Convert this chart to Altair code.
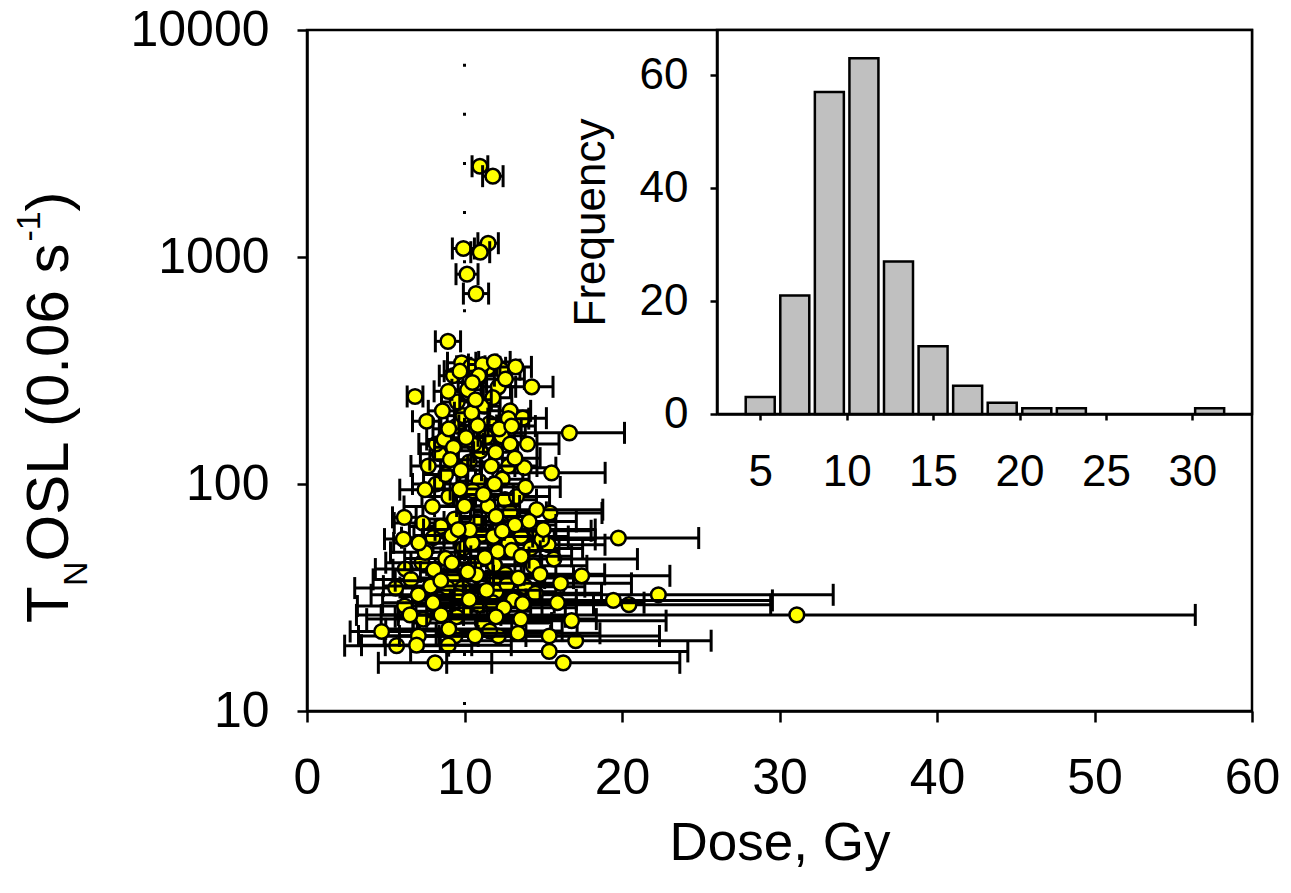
import altair as alt
import pandas as pd

# ---------------- data ----------------
dose = [10.98, 11.8, 9.93, 11.0, 11.5, 10.16, 10.73, 8.95,
        9.82, 9.71, 11.51, 11.15, 12.32, 13.25, 10.4, 10.9, 12.15, 14.27, 6.86, 8.97,
        9.54, 10.46, 11.26, 12.78, 11.8, 10.2, 8.6, 12.6,
        7.6, 10.84, 16.66, 8.7, 11.37, 12.36, 8.4, 11.98, 7.7, 9.78, 15.53, 13.2,
        10.92, 9.3, 10.3, 12.9, 13.8, 9.0, 11.0,
        7.49, 10.52, 13.88, 12.57, 7.96, 9.36, 6.18, 7.34, 14.58, 15.43, 14.1, 14.54,
        10.33, 9.0, 11.5, 8.5, 12.0, 10.8, 11.2, 8.2,
        11.83, 19.77, 6.12, 15.32, 9.19, 13.59, 12.11, 9.93, 13.0, 15.68, 11.3, 14.37,
        8.06, 6.24, 7.5, 10.6, 8.8, 12.8,
        10.77, 11.89, 17.44, 9.25, 13.42, 13.84, 16.1, 5.63, 7.85, 9.89, 7.07, 22.31,
        19.45, 9.54, 13.1, 12.0, 8.5,
        20.44, 13.69, 10.92, 8.51, 7.39, 13.57, 11.13, 6.54, 31.1, 4.74, 9.4, 10.67,
        12.15, 15.38, 17.06, 7.07, 10.0, 12.5,
        5.69, 6.96, 8.97, 15.38, 8.13, 16.27,
        9.5, 10.1, 11.6, 12.2, 9.9, 10.7, 12.9, 13.0, 8.2, 9.1,
        10.6, 11.7, 12.4, 9.7, 13.3, 11.9, 8.8, 10.0, 12.9, 9.6,
        11.1, 13.2, 8.0, 7.1, 10.5, 12.4, 14.9, 9.2, 11.9, 13.6,
        7.3, 10.2, 12.6, 14.8, 8.9, 11.4, 12.7, 10.3, 11.8, 8.0,
        9.5, 12.0, 14.5, 15.9, 6.6, 9.0, 11.6, 13.4, 6.2, 16.8,
        14.2, 15.0, 12.8, 14.0, 13.7, 10.5, 9.3, 11.9]
tn = [2510, 2270, 1090, 1050, 1150, 840, 690, 425,
      342, 314, 325, 336, 319, 328, 330, 300, 268, 268, 243, 256,
      230, 206, 220, 194, 240, 260, 210, 290,
      189, 181, 168, 157, 161, 163, 136, 138, 120, 115, 112, 130,
      103, 145, 125, 150, 118, 175, 140,
      94.4, 93.4, 97, 85.3, 79.6, 70.1, 71.3, 67.3, 77.1, 74.5, 68.4, 62.2,
      62.8, 88, 80, 65, 72, 68, 90, 100,
      58.7, 57.8, 57.2, 54, 59.3, 58.7, 50.5, 52.2, 51, 46.7, 47.4, 43.6,
      41.9, 42.2, 50, 44, 47, 55,
      39.8, 38.5, 39.4, 38.5, 38.5, 35.3, 36.5, 34.8, 35.5, 34.8, 32.5, 32.5,
      30.7, 31.9, 30.9, 33.5, 37.5,
      29.4, 29.7, 29.4, 26.5, 25.4, 25.4, 24.4, 26.5, 26.5, 22.4, 21.4, 21.4,
      21.4, 21.4, 20.4, 21.4, 27.5, 28.5,
      19.4, 19.5, 19.5, 18.3, 16.3, 16.3,
      180, 160, 185, 175, 200, 235, 210, 180, 150, 128,
      150, 120, 105, 95, 88, 100, 110, 80, 75, 63,
      60, 66, 58, 55, 55, 62, 57, 45, 44, 48,
      45, 41, 40, 40, 35, 34, 36, 31, 30, 30,
      26, 26, 33, 30, 38, 23, 22.5, 22, 29, 25,
      52, 63, 120, 150, 195, 280, 300, 345]
dose_err = [0.5, 0.65, 0.7, 0.6, 0.65, 0.7, 0.8, 0.8,
            0.9, 1.0, 1.1, 0.9, 1.2, 1.0, 0.9, 1.0, 1.1, 1.35, 0.5, 0.9,
            1.0, 1.1, 1.0, 1.3, 1.2, 1.0, 0.9, 1.2,
            0.9, 1.2, 3.5, 1.1, 1.3, 1.5, 1.2, 1.4, 1.1, 1.3, 3.4, 1.6,
            1.4, 1.2, 1.3, 1.7, 2.0, 1.0, 1.4,
            1.6, 1.8, 2.2, 2.0, 1.8, 2.0, 0.75, 1.8, 4.2, 3.3, 3.0, 3.5,
            2.2, 1.7, 2.0, 2.0, 2.3, 2.1, 1.9, 1.5,
            2.5, 5.1, 1.2, 3.6, 2.4, 3.0, 2.7, 2.5, 3.0, 5.3, 2.8, 3.4,
            2.6, 1.9, 2.2, 3.0, 2.6, 2.9,
            3.0, 3.2, 5.6, 3.0, 3.5, 3.8, 4.5, 2.6, 3.0, 3.2, 3.0, 11.1,
            10.1, 3.5, 4.0, 3.8, 2.9,
            9.0, 4.5, 4.0, 3.8, 3.6, 4.8, 4.4, 3.4, 25.3, 2.0, 4.5, 4.8,
            5.0, 7.0, 8.6, 3.8, 4.2, 4.6,
            3.3, 3.5, 4.0, 8.8, 3.6, 7.4,
            1.1, 1.2, 1.3, 1.4, 1.0, 1.0, 1.3, 1.5, 1.1, 1.3,
            1.3, 1.5, 1.7, 1.6, 2.1, 1.8, 1.4, 1.9, 2.3, 2.2,
            2.4, 2.6, 2.0, 1.6, 2.5, 2.6, 3.4, 2.6, 3.0, 3.2,
            2.3, 3.0, 3.2, 4.1, 3.0, 3.4, 3.6, 3.6, 3.9, 3.2,
            3.9, 4.4, 4.2, 5.5, 2.4, 4.0, 4.6, 5.2, 3.0, 6.0,
            3.3, 3.3, 1.8, 2.0, 1.5, 0.9, 0.9, 1.0]

hist_center = [5, 7, 9, 11, 13, 15, 17, 19, 21, 23, 25, 27, 29, 31]
hist_count = [3, 21, 57, 63, 27, 12, 5, 2, 1, 1, 0, 0, 0, 1]

main_x_ticks = [0, 10, 20, 30, 40, 50, 60]
main_y_ticks = [10, 100, 1000, 10000]
inset_x_ticks = [5, 10, 15, 20, 25, 30]
inset_y_ticks = [0, 20, 40, 60]

# ---------------- frames ----------------
pts = pd.DataFrame({"dose": dose, "tn": tn, "err": dose_err})
pts["grp"] = [i % 2 for i in range(len(pts))]  # drawing order only
hist = pd.DataFrame({"center": hist_center, "count": hist_count})
ref = pd.DataFrame({"dose": [10], "top": [7100], "bottom": [10]})
inset_box = pd.DataFrame({"x0": [2.5], "x1": [33.45], "y0": [0], "y1": [68]})

FONT = "Liberation Sans"
W, H = 945, 681

xs = alt.Scale(domain=[0, 60], nice=False, zero=False, padding=0)
ys = alt.Scale(type="log", domain=[10, 10000], nice=False, padding=0)
x_axis = alt.Axis(values=main_x_ticks, title="Dose, Gy", labelFontSize=50, titleFontSize=53,
                  tickSize=11, labelPadding=31, titlePadding=14, titleFontWeight="normal",
                  labelFlush=False, labelOverlap=False)
y_axis = alt.Axis(values=main_y_ticks, title=None, format="d", labelFontSize=50,
                  tickSize=10, labelPadding=28, labelFlush=False, labelOverlap=False)


def X(field):
    return alt.X(field, type="quantitative", scale=xs, axis=x_axis)


def Y(field):
    return alt.Y(field, type="quantitative", scale=ys, axis=y_axis)


base = alt.Chart(pts).transform_calculate(lo="datum.dose - datum.err", hi="datum.dose + datum.err")

dotted = alt.Chart(ref).mark_rule(color="black", strokeWidth=3, strokeDash=[3, 46.1]).encode(
    x=X("dose"), y=Y("top"), y2="bottom:Q")


def group_layers(g):
    b = base.transform_filter(f"datum.grp == {g}")
    bars = b.mark_rule(color="black", strokeWidth=3).encode(x=X("lo"), x2="hi:Q", y=Y("tn"))
    caps = b.transform_fold(["lo", "hi"], as_=["end", "xv"]).mark_tick(
        color="black", orient="vertical", size=22, thickness=3, opacity=1).encode(
        x=X("xv"), y=Y("tn"))
    points = b.mark_point(shape="circle", filled=True, fill="#FFFF00", stroke="black",
                          strokeWidth=2.5, size=215, opacity=1).encode(x=X("dose"), y=Y("tn"))
    return [bars, caps, points]


# y title built from pieces (subscript / superscript)
def piece(txt, fs, x, y):
    return alt.Chart(ref).mark_text(text=txt, angle=270, align="left", baseline="alphabetic",
                                    fontSize=fs, font=FONT, color="black").encode(
        x=alt.value(x), y=alt.value(y))


ytitle = [
    piece("T", 60, -239, 593),
    piece("N", 34, -220, 556),
    piece("OSL (0.06 s", 60, -239, 531.5),
    piece("-1", 34, -267, 211.5),
    piece(")", 60, -239, 181.5),
]

main = alt.layer(dotted, *group_layers(0), *group_layers(1), *ytitle)

# ---------------- inset ----------------
hxs = alt.Scale(domain=[2.5, 33.45], range=[410, W], nice=False, zero=False, padding=0)
hys = alt.Scale(domain=[0, 68], range=[384, 0], nice=False, padding=0)
hx_axis = alt.Axis(orient="bottom", offset=-(H - 384), values=inset_x_ticks, title=None,
                   labelFontSize=44, tickSize=6, labelPadding=30, zindex=3,
                   labelFlush=False, labelOverlap=False)
hy_axis = alt.Axis(orient="left", offset=-410, values=inset_y_ticks, title="Frequency",
                   titleFontSize=44, titleFontWeight="normal", titlePadding=26,
                   labelFontSize=44, tickSize=7, labelPadding=22, zindex=3,
                   labelFlush=False, labelOverlap=False)

box = alt.Chart(inset_box).mark_rect(fill="white", stroke="black", strokeWidth=2.5).encode(
    x=alt.X("x0:Q", scale=hxs, axis=hx_axis), x2="x1:Q",
    y=alt.Y("y0:Q", scale=hys, axis=hy_axis), y2="y1:Q")

hbars = alt.Chart(hist).transform_filter("datum.count > 0").mark_bar(
    size=29, fill="#C0C0C0", stroke="black", strokeWidth=2.5).encode(
    x=alt.X("center:Q", scale=hxs, axis=hx_axis),
    y=alt.Y("count:Q", scale=hys, axis=hy_axis))

inset = alt.layer(box, hbars)

chart = alt.layer(main, inset).resolve_scale(x="independent", y="independent").properties(
    width=W, height=H,
    autosize=alt.AutoSizeParams(type="none"),
    padding={"left": 299, "top": 22, "right": 30, "bottom": 170},
    background="white",
).configure_view(stroke="black", strokeWidth=2.5).configure_axis(
    grid=False, domainColor="black", domainWidth=2.5, tickColor="black", tickWidth=2.5,
    labelColor="black", titleColor="black", labelFont=FONT, titleFont=FONT,
).configure_text(font=FONT)

chart.save("out.html", embed_options={"renderer": "svg", "actions": False})
